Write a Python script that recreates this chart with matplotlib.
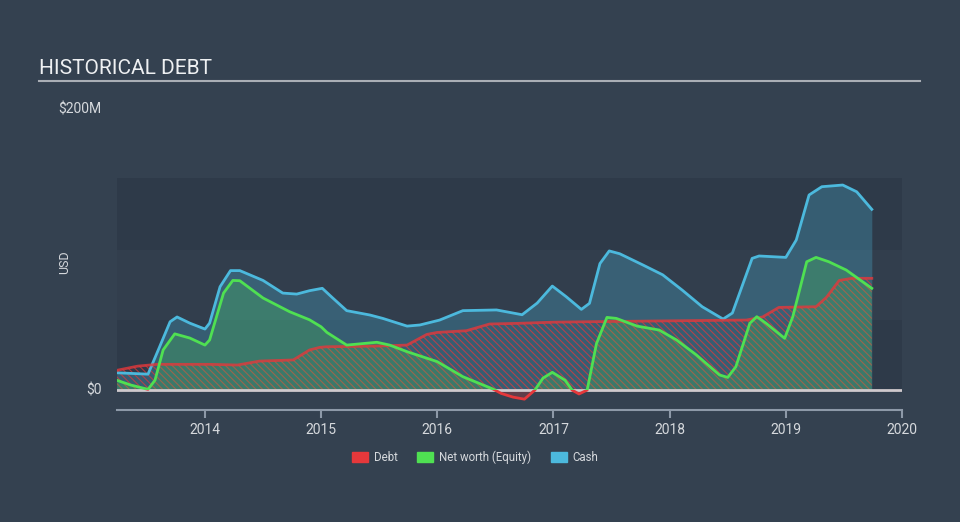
import numpy as np
import matplotlib.pyplot as plt
from matplotlib.patches import Patch, Rectangle

# values in $M, dates as decimal years
cash_t = [2013.24, 2013.51, 2013.61, 2013.70, 2013.76, 2013.87, 2014.00, 2014.04, 2014.13, 2014.22,
          2014.30, 2014.50, 2014.67, 2014.79, 2014.90, 2015.01, 2015.10, 2015.22, 2015.42, 2015.53,
          2015.74, 2015.85, 2016.02, 2016.22, 2016.51, 2016.73, 2016.86, 2016.99, 2017.11, 2017.24,
          2017.31, 2017.40, 2017.48, 2017.57, 2017.77, 2017.94, 2018.11, 2018.28, 2018.46, 2018.54,
          2018.71, 2018.77, 2019.00, 2019.09, 2019.20, 2019.31, 2019.49, 2019.61, 2019.74]
cash_v = [12.3, 11.3, 30.8, 48.6, 52.0, 47.6, 43.4, 47.6, 73.5, 85.0,
          85.0, 78.0, 69.0, 68.3, 70.7, 72.4, 65.5, 56.5, 53.4, 51.0,
          45.5, 46.3, 49.8, 56.5, 57.0, 53.6, 61.9, 74.0, 66.4, 57.4,
          61.7, 90.0, 99.0, 97.0, 89.0, 82.0, 71.0, 59.3, 50.5, 54.8,
          93.7, 95.4, 94.4, 106.8, 138.8, 144.7, 145.9, 141.1, 128.6]

equity_t = [2013.24, 2013.36, 2013.51, 2013.57, 2013.64, 2013.74, 2013.87, 2014.00, 2014.04, 2014.16,
            2014.24, 2014.30, 2014.50, 2014.73, 2014.90, 2015.00, 2015.05, 2015.22, 2015.48, 2015.59,
            2015.74, 2016.00, 2016.22, 2016.48, 2016.55, 2016.65, 2016.75, 2016.84, 2016.91, 2016.99,
            2017.10, 2017.16, 2017.22, 2017.29, 2017.37, 2017.46, 2017.54, 2017.72, 2017.91, 2018.06,
            2018.23, 2018.43, 2018.50, 2018.57, 2018.69, 2018.75, 2018.83, 2018.99, 2019.06, 2019.18,
            2019.26, 2019.37, 2019.52, 2019.74]
equity_v = [7.0, 3.6, 0.5, 7.0, 28.5, 40.0, 37.0, 32.0, 35.6, 69.0,
            78.0, 77.8, 65.5, 55.7, 50.0, 45.0, 41.0, 32.0, 34.0, 32.0,
            27.3, 20.2, 9.5, 0.7, -2.4, -5.0, -6.5, 0.0, 8.5, 12.6,
            7.0, 0.0, -2.8, 0.0, 33.0, 51.7, 51.0, 45.5, 42.7, 35.6,
            25.0, 10.7, 9.0, 16.6, 47.5, 52.2, 47.5, 36.8, 52.2, 91.3,
            94.4, 91.3, 85.4, 72.4]

debt_t = [2013.24, 2013.42, 2013.59, 2014.04, 2014.28, 2014.47, 2014.76, 2014.90, 2014.99, 2015.05,
          2015.48, 2015.74, 2015.91, 2016.00, 2016.25, 2016.45, 2016.71, 2017.00, 2017.50, 2018.08,
          2018.66, 2018.80, 2018.94, 2019.26, 2019.35, 2019.46, 2019.57, 2019.74]
debt_v = [14.0, 17.0, 18.3, 18.3, 17.8, 20.6, 21.4, 28.5, 30.4, 30.8,
          31.3, 32.0, 39.6, 41.0, 42.2, 47.0, 47.5, 48.3, 48.8, 49.3,
          49.8, 52.0, 58.8, 59.3, 66.0, 78.0, 79.5, 79.5]

years = [2014, 2015, 2016, 2017, 2018, 2019, 2020]

bg = '#344150'
red = '#e5383b'
green = '#4fe052'
blue = '#4cb9dd'

plt.rcParams['font.family'] = ['Roboto', 'DejaVu Sans']
plt.rcParams['hatch.linewidth'] = 0.8

fig = plt.figure(figsize=(9.6, 5.22), dpi=100, facecolor=bg)
ax = fig.add_axes([117 / 960, 112 / 522, 785 / 960, 232 / 522])
ax.set_facecolor(bg)
x0, x1 = 2013.243, 2020.0
ax.set_xlim(x0, x1)
ax.set_ylim(-14.2, 150.9)

# background bands
ax.axhspan(0, 50, color='#2e3a49', lw=0, zorder=0)
ax.axhspan(50, 100, color='#323e4d', lw=0, zorder=0)
ax.axhspan(100, 150.9, color='#2e3a49', lw=0, zorder=0)

ct, cv = np.array(cash_t), np.array(cash_v)
et, ev = np.array(equity_t), np.array(equity_v)
dt, dv = np.array(debt_t), np.array(debt_v)

ax.fill_between(ct, 0, cv, color=blue, alpha=0.28, lw=0, zorder=1)
ax.fill_between(dt, 0, dv, facecolor='none', edgecolor=red, hatch='\\\\\\\\\\', lw=0, alpha=0.7, zorder=2)
ax.fill_between(et, 0, ev, where=ev >= 0, interpolate=True, color=green, alpha=0.22, lw=0, zorder=3)
ax.fill_between(et, 0, ev, where=ev <= 0, interpolate=True, color=red, alpha=0.25, lw=0, zorder=3)

ax.axhline(0, color='#cfc9cd', lw=2, zorder=4)

ax.plot(ct, cv, color=blue, lw=2, zorder=5)
ax.plot(dt, dv, color=red, lw=2, alpha=0.8, zorder=5)
pos_line, = ax.plot(et, ev, color=green, lw=2, zorder=6)
neg_line, = ax.plot(et, ev, color=red, lw=2, zorder=6)
pos_line.set_clip_path(Rectangle((x0, 0), x1 - x0, 200, transform=ax.transData))
neg_line.set_clip_path(Rectangle((x0, -50), x1 - x0, 50, transform=ax.transData))

for s in ['top', 'right', 'left']:
    ax.spines[s].set_visible(False)
ax.spines['bottom'].set_color('#8d99a8')
ax.spines['bottom'].set_linewidth(1.5)
ax.set_yticks([])
ax.set_xticks(years)
ax.set_xticklabels([str(y) for y in years])
ax.tick_params(axis='x', colors='#8d99a8', length=6, width=1.5, labelsize=10, labelcolor='#d6d9dd', pad=3)

# y labels
ax.text(-0.0197, 0, '$0', transform=ax.get_yaxis_transform(), ha='right', va='center',
        color='#d6d9dd', fontsize=10)
ax.text(-0.0197, 200, '$200M', transform=ax.get_yaxis_transform(), ha='right', va='center',
        color='#d6d9dd', fontsize=10, clip_on=False)
fig.text(65 / 960, 1 - 262 / 522, 'USD', rotation=90, ha='center', va='center',
         color='#d6d9dd', fontsize=9)

# title
fig.text(39 / 960, 1 - 69 / 522, 'HISTORICAL DEBT', ha='left', va='center', color='#eef0f2', fontsize=15)
fig.add_artist(plt.Line2D([39 / 960, 920 / 960], [1 - 81 / 522, 1 - 81 / 522], color='#a9aeb5', lw=1.5))

handles = [Patch(color=red, label='Debt'), Patch(color=green, label='Net worth (Equity)'),
           Patch(color=blue, label='Cash')]
fig.legend(handles=handles, loc='center', bbox_to_anchor=(475 / 960, 1 - 457 / 522), ncol=3,
           frameon=False, fontsize=8.3, labelcolor='#d6d9dd', handlelength=1.4, handleheight=1.0,
           columnspacing=1.7, handletextpad=0.5)

fig.savefig('out.png', dpi=100, facecolor=bg)
